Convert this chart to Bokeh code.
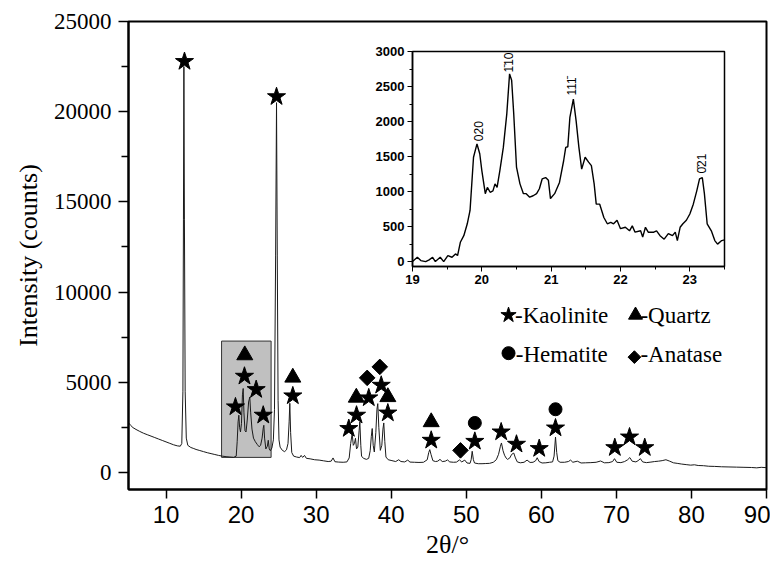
import math
from bokeh.plotting import figure
from bokeh.models import Range1d, FixedTicker, ColumnDataSource
from bokeh.embed import file_html
from bokeh.resources import INLINE
from bokeh.core.properties import value

# ---------------- data ----------------
main_x = [
    5.0, 5.3, 5.6, 6.0, 6.5, 7.0, 7.5, 8.0, 8.5, 9.0,
    9.5, 10.0, 10.5, 11.0, 11.5, 11.9, 12.1, 12.25, 12.32, 12.38,
    12.45, 12.55, 12.7, 12.9, 13.3, 13.7, 14.0, 14.5, 15.0, 15.5,
    16.0, 16.5, 17.0, 17.5, 18.0, 18.5, 19.0, 19.35, 19.48, 19.6,
    19.7, 19.8, 19.92, 20.05, 20.18, 20.28, 20.38, 20.52, 20.66, 20.82,
    21.0, 21.16, 21.28, 21.45, 21.65, 21.9, 22.15, 22.4, 22.6, 22.8,
    22.95, 23.03, 23.13, 23.3, 23.5, 23.62, 23.75, 23.9, 24.1, 24.3,
    24.45, 24.6, 24.72, 24.82, 24.93, 25.05, 25.2, 25.5, 25.8, 26.05,
    26.25, 26.4, 26.49, 26.6, 26.75, 27.0, 27.4, 27.8, 28.0, 28.2,
    28.45, 28.7, 29.2, 29.8, 30.4, 31.0, 31.6, 32.0, 32.25, 32.5,
    33.0, 33.6, 34.1, 34.4, 34.6, 34.8, 34.95, 35.1, 35.24, 35.38,
    35.55, 35.72, 35.82, 35.95, 36.05, 36.3, 36.7, 37.0, 37.2, 37.35,
    37.47, 37.6, 37.75, 37.95, 38.1, 38.21, 38.35, 38.55, 38.75, 38.9,
    39.01, 39.15, 39.3, 39.6, 40.1, 40.6, 41.0, 41.3, 41.8, 42.2,
    42.5, 43.1, 43.7, 44.3, 44.8, 45.0, 45.14, 45.3, 45.55, 45.9,
    46.2, 46.5, 46.8, 47.2, 47.5, 47.8, 48.3, 48.7, 49.1, 49.4,
    49.8, 50.1, 50.5, 50.65, 50.79, 50.95, 51.1, 51.6, 52.1, 52.6,
    53.1, 53.6, 54.0, 54.3, 54.55, 54.69, 54.9, 55.1, 55.3, 55.5,
    55.8, 56.05, 56.33, 56.55, 56.8, 57.2, 57.7, 58.1, 58.5, 58.9,
    59.25, 59.45, 59.7, 60.1, 60.6, 61.1, 61.5, 61.7, 61.89, 62.05,
    62.2, 62.5, 63.1, 63.6, 63.9, 64.2, 64.8, 65.3, 65.9, 66.6,
    67.3, 67.9, 68.4, 69.0, 69.5, 69.75, 70.05, 70.6, 71.1, 71.5,
    71.79, 72.1, 72.6, 72.9, 73.2, 73.5, 74.0, 74.6, 75.1, 75.6,
    76.1, 76.6, 77.1, 77.6, 78.1, 78.7, 79.3, 79.9, 80.4, 80.9,
    81.6, 82.3, 83.1, 84.0, 85.0, 86.0, 87.0, 88.0, 88.7, 89.3,
    90.0]
main_y = [
    2750, 2600, 2480, 2380, 2270, 2170, 2090, 2010, 1930, 1850,
    1770, 1690, 1610, 1530, 1470, 1450, 1600, 4500, 14000, 22500,
    14000, 4500, 1900, 1500, 1380, 1320, 1270, 1210, 1150, 1090,
    1040, 990, 940, 900, 870, 850, 830, 900, 1700, 2800,
    3170, 2500, 2240, 2700, 4300, 4650, 3300, 2300, 2240, 2900,
    3900, 4180, 3300, 2400, 1900, 1700, 1550, 1420, 1500, 1900,
    2450, 2610, 1900, 1300, 1450, 1780, 1300, 1200, 1350, 1800,
    3500, 12000, 20500, 12000, 4000, 1800, 1400, 1220, 1150, 1250,
    1600, 2800, 3830, 2200, 1100, 900, 850, 820, 940, 830,
    940, 780, 750, 700, 680, 640, 600, 620, 800, 590,
    570, 560, 580, 800, 1600, 2150, 1500, 1600, 1890, 1300,
    1400, 2300, 2800, 1500, 900, 780, 720, 780, 1200, 2000,
    2430, 1500, 1130, 2200, 3500, 3810, 2500, 1220, 1500, 2400,
    2740, 1700, 850, 700, 650, 600, 700, 600, 580, 680,
    570, 560, 550, 560, 700, 1100, 1260, 1000, 650, 600,
    620, 720, 600, 620, 690, 580, 560, 570, 690, 580,
    680, 520, 500, 700, 1170, 700, 520, 480, 480, 490,
    500, 560, 700, 1000, 1450, 1630, 1200, 950, 800, 720,
    800, 1000, 1070, 800, 580, 530, 560, 680, 550, 560,
    650, 810, 600, 520, 530, 560, 580, 900, 1960, 1100,
    650, 560, 560, 600, 680, 560, 620, 520, 530, 540,
    560, 630, 530, 540, 600, 760, 560, 540, 600, 700,
    820, 620, 580, 650, 760, 580, 540, 570, 600, 620,
    650, 700, 620, 530, 500, 460, 430, 400, 420, 380,
    370, 340, 330, 310, 300, 290, 280, 270, 250, 280,
    260]

inset_x = [
    19.0, 19.07, 19.12, 19.19, 19.24, 19.29, 19.33, 19.40, 19.45, 19.51,
    19.57, 19.62, 19.65, 19.69, 19.74, 19.79, 19.83, 19.88, 19.93, 19.97,
    20.0, 20.05, 20.08, 20.12, 20.16, 20.19, 20.22, 20.26, 20.31, 20.36,
    20.40, 20.43, 20.46, 20.50, 20.55, 20.60, 20.64, 20.69, 20.74, 20.79,
    20.83, 20.87, 20.92, 20.96, 20.99, 21.05, 21.12, 21.18, 21.21, 21.24,
    21.27, 21.32, 21.36, 21.40, 21.44, 21.49, 21.54, 21.58, 21.62, 21.65,
    21.70, 21.76, 21.81, 21.86, 21.90, 21.95, 22.0, 22.07, 22.13, 22.17,
    22.21, 22.29, 22.32, 22.36, 22.40, 22.48, 22.52, 22.57, 22.63, 22.69,
    22.75, 22.79, 22.82, 22.86, 22.90, 22.95, 23.0, 23.05, 23.10, 23.14,
    23.18, 23.21, 23.25, 23.31, 23.36, 23.40, 23.46, 23.5]
inset_y = [
    0, 62, 14, 0, 24, 62, 0, 62, 0, 86,
    62, 110, 86, 276, 370, 540, 730, 1490, 1680, 1540,
    1300, 970, 1060, 990, 1010, 1110, 1060, 1300, 1630, 2110,
    2680, 2590, 2110, 1350, 1110, 970, 970, 920, 940, 970,
    1040, 1180, 1200, 1160, 900, 970, 1130, 1440, 1630, 1640,
    2060, 2320, 2010, 1630, 1320, 1490, 1420, 1370, 1110, 820,
    820, 630, 540, 560, 540, 590, 470, 490, 440, 510,
    420, 440, 350, 490, 420, 420, 440, 370, 320, 400,
    370, 420, 300, 490, 540, 590, 680, 820, 1010, 1180,
    1200, 970, 540, 440, 300, 250, 300, 310]

kaolinite_x = [12.46, 24.72, 19.25, 20.45, 22.01, 22.95, 26.89, 34.35, 35.38, 37.01,
               38.67, 39.55, 45.33, 51.14, 54.65, 56.69, 59.72, 61.89, 69.79, 71.75, 73.78]
kaolinite_y = [22780, 20830, 3630, 5330, 4590, 3170, 4240, 2430, 3170, 4130,
               4830, 3290, 1780, 1720, 2240, 1560, 1320, 2460, 1370, 1960, 1370]
quartz_x = [20.49, 26.89, 35.35, 39.55, 45.33]
quartz_y = [6500, 5260, 4150, 4180, 2790]
hematite_x = [51.14, 61.89]
hematite_y = [2740, 3500]
anatase_x = [36.80, 38.48, 49.23]
anatase_y = [5240, 5850, 1220]

legend_markers = ["star", "triangle", "circle", "square"]
legend_angles = [0, 0, 0, math.pi / 4]
legend_sizes = [16, 14, 13, 9]
legend_labels = ["-Kaolinite", "-Quartz", "-Hematite", "-Anatase"]
legend_mx = [55.63, 72.55, 55.63, 72.4]
legend_my = [8720, 8720, 6610, 6390]
legend_tx = [56.5, 73.2, 56.6, 73.2]
legend_ty = [8720, 8720, 6530, 6530]

# highlighted region shown in the inset
box_left, box_right, box_bottom, box_top = 17.4, 24.0, 830, 7280

hkl_labels = ["020", "1\u030410", "111\u0304", "0\u030421"]
hkl_x = [19.955, 20.39, 21.30, 23.17]
hkl_y = [1720, 2700, 2370, 1257]

main_ticks_x = [10, 20, 30, 40, 50, 60, 70, 80, 90]
main_ticks_y = [0, 5000, 10000, 15000, 20000, 25000]
main_minor_y = [2500, 7500, 12500, 17500, 22500]
inset_ticks_x = [19, 20, 21, 22, 23]
inset_minor_x = [19.5, 20.5, 21.5, 22.5, 23.5]
inset_ticks_y = [0, 500, 1000, 1500, 2000, 2500, 3000]
inset_minor_y = [250, 750, 1250, 1750, 2250, 2750]

SERIF = "Liberation Serif"
SANS = "Liberation Sans"

# ---------------- main figure ----------------
p = figure(width=770, height=565, x_range=Range1d(5, 90), y_range=Range1d(-950, 25000),
           output_backend="svg", toolbar_location=None,
           min_border_left=128, min_border_right=4, min_border_top=21, min_border_bottom=76)
p.grid.visible = False
p.outline_line_color = "black"
p.outline_line_width = 2
p.background_fill_color = "white"

p.quad(left=[box_left], right=[box_right], bottom=[box_bottom], top=[box_top],
       fill_color="#c0c0c0", line_color="#333333", line_width=1)
p.line(main_x, main_y, line_color="#1a1a1a", line_width=1)

p.scatter(kaolinite_x, kaolinite_y, marker="star", size=19, color="black")
p.scatter(quartz_x, quartz_y, marker="triangle", size=16, color="black")
p.scatter(hematite_x, hematite_y, marker="circle", size=13, color="black")
p.scatter(anatase_x, anatase_y, marker="square", size=11, angle=math.pi / 4, color="black")

leg_src = ColumnDataSource(dict(x=legend_mx, y=legend_my, m=legend_markers,
                                a=legend_angles, s=legend_sizes))
p.scatter(x="x", y="y", marker="m", size="s", angle="a", color="black", source=leg_src)
p.text(x=legend_tx, y=legend_ty, text=legend_labels, text_font=value(SERIF),
       text_font_size="23px", text_align="left", text_baseline="middle", text_color="black")

p.xaxis.ticker = FixedTicker(ticks=main_ticks_x)
p.yaxis.ticker = FixedTicker(ticks=main_ticks_y, minor_ticks=main_minor_y)
p.xaxis.axis_label = "2θ/°"
p.yaxis.axis_label = "Intensity (counts)"
for ax in (p.xaxis[0], p.yaxis[0]):
    ax.axis_line_width = 2
    ax.major_tick_line_width = 1.5
    ax.minor_tick_line_width = 1.5
    ax.major_tick_in = 0
    ax.minor_tick_in = 0
    ax.axis_label_text_font = SERIF
    ax.axis_label_text_font_style = "normal"
    ax.axis_label_text_font_size = "26px"
    ax.axis_label_text_color = "black"
    ax.major_label_text_color = "black"
p.xaxis.major_tick_out = 9
p.xaxis.minor_tick_line_color = None
p.xaxis.major_label_text_font = SANS
p.xaxis.major_label_text_font_size = "24px"
p.xaxis.major_label_standoff = 7
p.xaxis.axis_label_standoff = 4
p.yaxis.major_tick_out = 10
p.yaxis.minor_tick_out = 7
p.yaxis.major_label_text_font = SERIF
p.yaxis.major_label_text_font_size = "23px"
p.yaxis.major_label_standoff = 7
p.yaxis.axis_label_standoff = 8

# ---------------- inset figure ----------------
inset = figure(width=368, height=245, x_range=Range1d(19, 23.5), y_range=Range1d(-70, 3000),
               output_backend="svg", toolbar_location=None,
               min_border_left=50, min_border_right=6, min_border_top=6, min_border_bottom=24,
               styles={"position": "absolute", "left": "362px", "top": "45px", "z-index": "2"})
inset.grid.visible = False
inset.outline_line_color = "black"
inset.outline_line_width = 1.5
inset.background_fill_alpha = 0
inset.border_fill_alpha = 0
inset.line(inset_x, inset_y, line_color="black", line_width=1.4)
inset.text(x=hkl_x, y=hkl_y, text=hkl_labels, angle=math.pi / 2, text_align="left",
           text_baseline="middle", text_font=value(SANS), text_font_size="12px", text_color="black")
inset.xaxis.ticker = FixedTicker(ticks=inset_ticks_x, minor_ticks=inset_minor_x)
inset.yaxis.ticker = FixedTicker(ticks=inset_ticks_y, minor_ticks=inset_minor_y)
for ax in (inset.xaxis[0], inset.yaxis[0]):
    ax.axis_line_width = 1.5
    ax.major_tick_in = 0
    ax.minor_tick_in = 0
    ax.major_tick_out = 5
    ax.minor_tick_out = 3
    ax.major_label_text_font = SANS
    ax.major_label_text_font_style = "bold"
    ax.major_label_text_font_size = "13px"
    ax.major_label_text_color = "black"
    ax.major_label_standoff = 3

open("out.html", "w").write(file_html([p, inset], INLINE))
